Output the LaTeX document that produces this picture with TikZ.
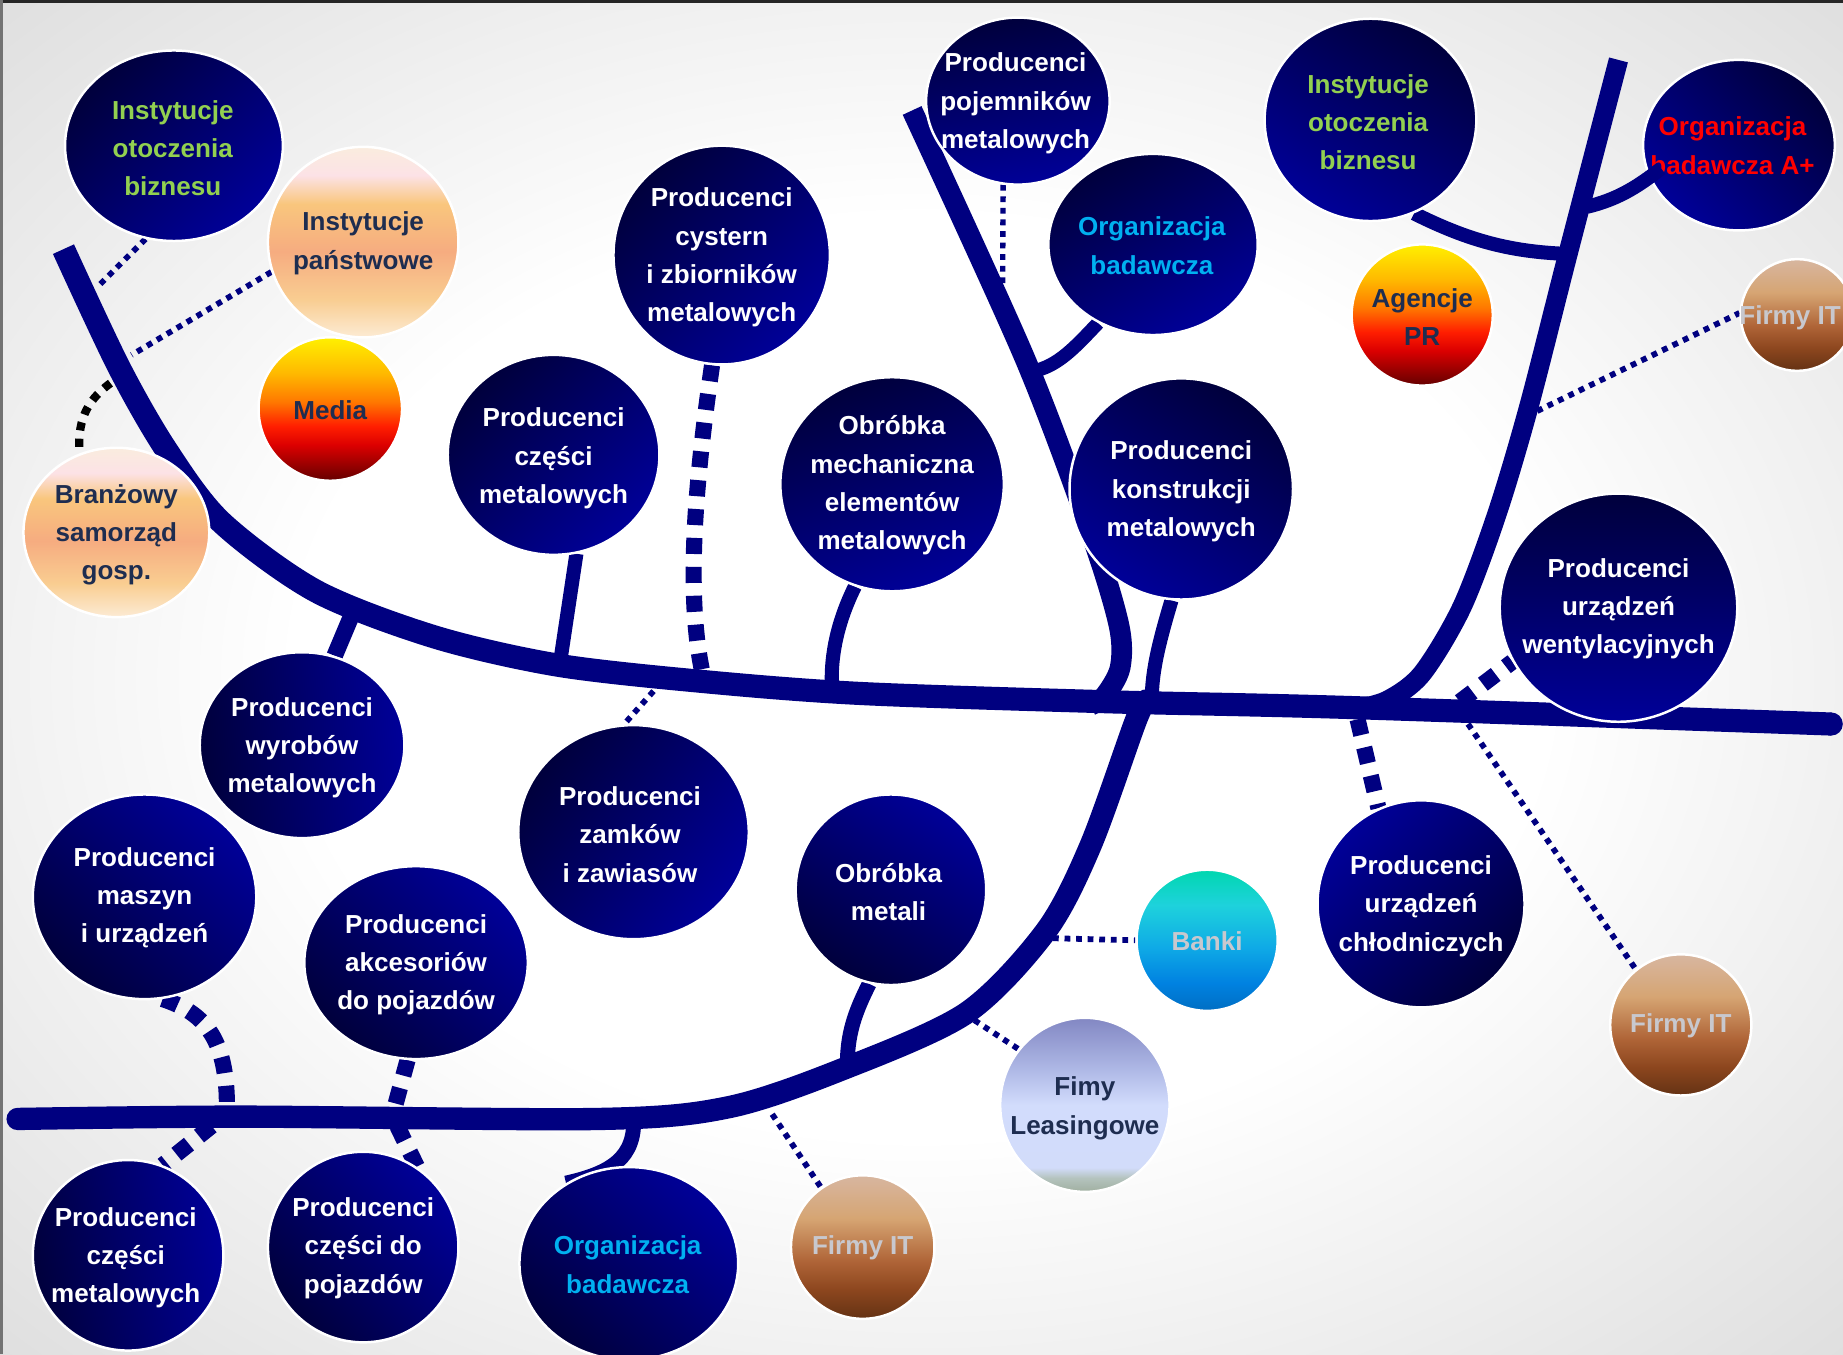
\documentclass[tikz,border=0pt]{standalone}
\usepackage{fontspec}
\setmainfont{Liberation Sans}
\usetikzlibrary{shapes.geometric}
\definecolor{navyL}{RGB}{0,0,128}
\definecolor{navyD}{RGB}{0,0,60}
\definecolor{navyB}{RGB}{0,0,152}
\definecolor{txtG}{RGB}{146,208,80}
\definecolor{txtC}{RGB}{0,176,240}
\definecolor{txtD}{RGB}{30,45,80}
\definecolor{txtL}{RGB}{200,200,206}
\definecolor{bggray}{RGB}{222,222,222}
% peach
\definecolor{pa1}{RGB}{252,235,212}
\definecolor{pa2}{RGB}{249,205,145}
\definecolor{pa3}{RGB}{246,172,128}
\definecolor{pa4}{RGB}{249,198,125}
\definecolor{pa5}{RGB}{252,226,230}
\definecolor{pa6}{RGB}{250,236,222}
% orange
\definecolor{or1}{RGB}{100,0,0}
\definecolor{or2}{RGB}{220,0,0}
\definecolor{or3}{RGB}{255,30,0}
\definecolor{or4}{RGB}{255,120,0}
\definecolor{or5}{RGB}{255,185,0}
\definecolor{or6}{RGB}{255,240,0}
% brown
\definecolor{br1}{RGB}{100,50,20}
\definecolor{br2}{RGB}{140,70,30}
\definecolor{br3}{RGB}{175,100,55}
\definecolor{br4}{RGB}{214,165,115}
\definecolor{br5}{RGB}{215,182,160}
% banks
\definecolor{bk1}{RGB}{0,110,195}
\definecolor{bk2}{RGB}{0,130,225}
\definecolor{bk3}{RGB}{15,170,230}
\definecolor{bk4}{RGB}{30,210,220}
\definecolor{bk5}{RGB}{0,215,175}
% leasing
\definecolor{ls1}{RGB}{160,175,160}
\definecolor{ls2}{RGB}{180,195,190}
\definecolor{ls3}{RGB}{210,220,250}
\definecolor{ls4}{RGB}{210,220,252}
\definecolor{ls5}{RGB}{175,185,230}
\definecolor{ls6}{RGB}{130,135,195}
\pgfdeclareverticalshading{peachsh}{100bp}{color(0bp)=(pa1); color(25bp)=(pa1); color(35bp)=(pa2); color(47.5bp)=(pa3); color(60bp)=(pa4); color(67.5bp)=(pa5); color(75bp)=(pa6); color(100bp)=(pa6)}
\pgfdeclareverticalshading{orangesh}{100bp}{color(0bp)=(or1); color(25bp)=(or1); color(37.5bp)=(or2); color(44bp)=(or3); color(52.5bp)=(or4); color(62.5bp)=(or5); color(75bp)=(or6); color(100bp)=(or6)}
\pgfdeclareverticalshading{brownsh}{100bp}{color(0bp)=(br1); color(25bp)=(br1); color(35bp)=(br2); color(45bp)=(br3); color(60bp)=(br4); color(75bp)=(br5); color(100bp)=(br5)}
\pgfdeclareverticalshading{banksh}{100bp}{color(0bp)=(bk1); color(25bp)=(bk1); color(35bp)=(bk2); color(47.5bp)=(bk3); color(62.5bp)=(bk4); color(75bp)=(bk5); color(100bp)=(bk5)}
\pgfdeclareverticalshading{leasesh}{100bp}{color(0bp)=(ls1); color(25bp)=(ls1); color(29bp)=(ls2); color(32bp)=(ls3); color(50bp)=(ls4); color(60bp)=(ls5); color(75bp)=(ls6); color(100bp)=(ls6)}
\pgfdeclareradialshading{bgsh}{\pgfpoint{0bp}{0bp}}{color(0bp)=(white); color(17bp)=(white); color(36bp)=(bggray); color(50bp)=(bggray)}
\pgfdeclarelayer{bg}
\pgfdeclarelayer{lines}
\pgfdeclarelayer{top}
\pgfsetlayers{bg,lines,main,top}
\tikzset{
  R/.style n args={2}{minimum width=#1*0.02cm, minimum height=#2*0.02cm},
  bub/.style={ellipse, inner sep=0pt, draw=white, line width=0.6pt},
  nv/.style={bub, top color=navyD, bottom color=navyB, shading angle=#1},
  pch/.style={bub, shade, shading=peachsh},
  orng/.style={bub, shade, shading=orangesh},
  brn/.style={bub, shade, shading=brownsh},
  bnk/.style={bub, shade, shading=banksh},
  lsg/.style={bub, shade, shading=leasesh},
  txt/.style={font=\fontsize{6.3}{9.25}\selectfont\bfseries, align=center, inner sep=0pt},
  trunk/.style={draw=navyL, line width=#1},
  dotl/.style={draw=navyL, line width=1.4pt, dash pattern=on 1.4pt off 1.4pt},
  dashl/.style={draw=navyL, line width=3.9pt, dash pattern=on 3.9pt off 3.1pt},
  blk/.style={draw=black, line width=2pt, dash pattern=on 2pt off 2pt}
}
\begin{document}
\begin{tikzpicture}[x=0.01cm,y=-0.01cm]
\useasboundingbox (0,0) rectangle (1568,1152);
\begin{pgfonlayer}{bg}
\shade[shading=bgsh] (0,0) rectangle (1568,1152);
\fill[black!85] (0,0) rectangle (1568,2.5);
\fill[black!55] (0,0) rectangle (2.5,1152);
\end{pgfonlayer}

% ---------- nodes ----------
\node[nv=45, R={92.6}{81}] (n1) at (148,124) {};
\node[pch, R={81}{81}] (n2) at (309,206) {};
\node[orng, R={61}{61}] (n3) at (281,348) {};
\node[pch, R={79}{72}] (n4) at (99,453) {};
\node[nv=45, R={92}{93}] (n5) at (614,217) {};
\node[nv=45, R={90}{85}] (n6) at (471,387) {};
\node[nv=20, R={95}{91}] (n7) at (759,412) {};
\node[nv=10, R={78}{71}] (n8) at (866,86) {};
\node[nv=30, R={89}{77}] (n9) at (981,208) {};
\node[nv=-30, R={95}{94}] (n10) at (1005,416) {};
\node[nv=-30, R={90}{86}] (n11) at (1166,102) {};
\node[orng, R={60}{60}] (n12) at (1210,268) {};
\node[nv=-45, R={81.5}{72.5}] (n13) at (1479.5,123.5) {};
\node[brn, R={48}{47.5}] (n14) at (1529,268) {};
\node[nv=0, R={101}{97}] (n15) at (1377,517) {};
\node[nv=95, R={87}{79}] (n16) at (257,634) {};
\node[nv=55, R={98}{91}] (n17) at (539,708) {};
\node[nv=145, R={81}{81}] (n18) at (758,757) {};
\node[bnk, R={60}{60}] (n19) at (1027,800) {};
\node[nv=225, R={88}{88}] (n20) at (1209,769) {};
\node[brn, R={60}{60}] (n21) at (1430,872) {};
\node[nv=135, R={95}{87}] (n22) at (123,763) {};
\node[nv=135, R={95}{82}] (n23) at (354,819) {};
\node[lsg, R={72}{74}] (n24) at (923,940) {};
\node[nv=100, R={81}{81}] (n25) at (109,1068) {};
\node[nv=130, R={81}{81}] (n26) at (309,1061) {};
\node[nv=135, R={93}{82}] (n27) at (535,1075) {};
\node[brn, R={61}{61}] (n28) at (734,1061) {};

% ---------- texts ----------
\node[txt, text=txtG] (t1) at (147,126) {Instytucje\\otoczenia\\biznesu};
\node[txt, text=txtD] (t2) at (309,207) {Instytucje\\państwowe};
\node[txt, text=txtD] (t3) at (281,349) {Media};
\node[txt, text=txtD] (t4) at (99,455) {Branżowy\\samorząd\\gosp.};
\node[txt, text=white] (t5) at (614,219) {Producenci\\cystern\\i zbiorników\\metalowych};
\node[txt, text=white] (t6) at (471,390) {Producenci\\części\\metalowych};
\node[txt, text=white] (t7) at (759,413) {Obróbka\\mechaniczna\\elementów\\metalowych};
\node[txt, text=white] (t8) at (864,88) {Producenci\\pojemników\\metalowych};
\node[txt, text=txtC] (t9) at (980,209) {Organizacja\\badawcza};
\node[txt, text=white] (t10) at (1005,418) {Producenci\\konstrukcji\\metalowych};
\node[txt, text=txtG] (t11) at (1164,104) {Instytucje\\otoczenia\\biznesu};
\node[txt, text=txtD] (t12) at (1210,270) {Agencje\\PR};
\node[txt, text=red] (t13) at (1474,124) {Organizacja\\badawcza A+};
\node[txt, text=txtL] (t14) at (1523,270) {Firmy IT};
\node[txt, text=white] (t15) at (1377,518) {Producenci\\urządzeń\\wentylacyjnych};
\node[txt, text=white] (t16) at (257,636) {Producenci\\wyrobów\\metalowych};
\node[txt, text=white] (t17) at (536,710) {Producenci\\zamków\\i zawiasów};
\node[txt, text=white] (t18) at (756,759) {Obróbka\\metali};
\node[txt, text=txtL] (t19) at (1027,801) {Banki};
\node[txt, text=white] (t20) at (1209,771) {Producenci\\urządzeń\\chłodniczych};
\node[txt, text=txtL] (t21) at (1430,873) {Firmy IT};
\node[txt, text=white] (t22) at (123,764) {Producenci\\maszyn\\i urządzeń};
\node[txt, text=white] (t23) at (354,821) {Producenci\\akcesoriów\\do pojazdów};
\node[txt, text=txtD] (t24) at (923,943) {Fimy\\Leasingowe};
\node[txt, text=white] (t25) at (107,1070) {Producenci\\części\\metalowych};
\node[txt, text=white] (t26) at (309,1062) {Producenci\\części do\\pojazdów};
\node[txt, text=txtC] (t27) at (534,1076) {Organizacja\\badawcza};
\node[txt, text=txtL] (t28) at (734,1062) {Firmy IT};

% ---------- junctions ----------
\coordinate (j1) at (82,245);
\coordinate (j2) at (112,302);
\coordinate (j4) at (94,326);
\coordinate (j16) at (304,512);
\coordinate (j6) at (476,567);
\coordinate (j5) at (598,574);
\coordinate (j17) at (556,588);
\coordinate (j7) at (708,588);
\coordinate (j8) at (853,244);
\coordinate (j9) at (878,316);
\coordinate (j10) at (980,602);
\coordinate (j11) at (1332,216);
\coordinate (j13) at (1350,176);
\coordinate (j14) at (1299,354);
\coordinate (j15) at (1242,597);
\coordinate (j20) at (1155,612);
\coordinate (j21) at (1249,616);
\coordinate (j22) at (193,945);
\coordinate (j25) at (180,958);
\coordinate (j23) at (335,945);
\coordinate (j26) at (338,958);
\coordinate (j27) at (539,950);
\coordinate (j28) at (657,948);
\coordinate (j18) at (721,910);
\coordinate (j19) at (886,798);
\coordinate (j24) at (829,868);

\begin{pgfonlayer}{lines}
% dotted and dashed links
\draw[dotl] (n1.-107) -- (j1);
\draw[dotl] (n2.198) -- (j2);
\draw[blk] (j4) .. controls (72,342) and (66,360) .. (n4.115);
\draw[dotl, line width=1.3pt] (n8.260) -- (j8);
\draw[dotl] (j17) -- (n17.95);
\draw[dotl] (j19) -- (n19.180);
\draw[dotl] (j24) -- (n24.140);
\draw[dotl] (j28) -- (n28.125);
\draw[dotl] (j21) -- (n21.129);
\draw[dotl] (j14) -- (n14.178);
\draw[dashl] (n5.265) .. controls (590,420) and (584,510) .. (j5);
\draw[dashl] (n22.-80) .. controls (175,862) and (194,885) .. (j22);
\draw[dashl] (j25) -- (n25.69);
\draw[dashl] (n23.265) -- (j23);
\draw[dashl] (j26) -- (n26.56);
\draw[dashl] (j20) -- (n20.114);
\draw[dashl] (j15) -- (n15.207);
% trunks
\draw[trunk=5.6pt] plot[smooth, tension=0.5] coordinates {(54,212) (101,312) (141,382) (188,444) (269,503) (370,542) (475,566) (600,580) (732,590) (940,597) (1150,602) (1558,616)};
\fill[navyL] (1558,616) circle[radius=2.8pt];
\draw[trunk=5.4pt, line cap=round] plot[smooth, tension=0.5] coordinates {(15,952) (202,950) (510,952) (620,942) (716,910) (822,862) (890,792) (928,719) (966,614) (975,596)};
\draw[trunk=5pt] plot[smooth, tension=0.5] coordinates {(776,94) (872,305) (929,456) (952,532) (953,568) (940,592) (928,600)};
\draw[trunk=4.7pt] plot[smooth, tension=0.5] coordinates {(1377,51) (1334,216) (1301,345) (1274,436) (1244,516) (1210,573) (1180,596) (1150,604)};
% stems
\draw[trunk=3.3pt] (n9.235) .. controls (915,295) and (900,312) .. (j9);
\draw[trunk=3.4pt] (n10.265) .. controls (985,550) and (979,575) .. (j10);
\draw[trunk=3.4pt] (n7.250) .. controls (712,530) and (706,560) .. (j7);
\draw[trunk=3.4pt] (n6.283) -- (j6);
\draw[trunk=4pt] (n16.70) -- (j16);
\draw[trunk=3.6pt] (n18.257) .. controls (728,860) and (720,880) .. (j18);
\draw[trunk=3.6pt] (j27) .. controls (541,985) and (520,998) .. (n27.128);
\draw[trunk=3.4pt] (n11.-65) .. controls (1250,205) and (1285,214) .. (j11);
\end{pgfonlayer}

\begin{pgfonlayer}{top}
\draw[trunk=3.4pt, shorten >=-0.13cm] (j13) .. controls (1375,170) and (1392,160) .. (n13.200);
\end{pgfonlayer}
\end{tikzpicture}
\end{document}
